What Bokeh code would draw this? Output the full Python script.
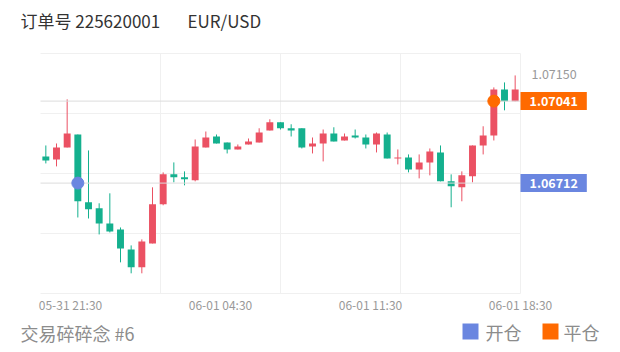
from bokeh.plotting import figure
from bokeh.models import Range1d, Label, ColumnDataSource
from bokeh.embed import file_html
from bokeh.resources import INLINE

# ---------------- data ----------------
title_order = "订单号 225620001"
title_pair = "EUR/USD"
footer_text = "交易碎碎念 #6"
legend_labels = ["开仓", "平仓"]

opens = [1.06819, 1.06807, 1.06855, 1.06907, 1.06635, 1.06611, 1.06550, 1.06526, 1.06446, 1.06374,
         1.06470, 1.06627, 1.06747, 1.06735, 1.06723, 1.06855, 1.06899, 1.06875, 1.06847, 1.06867,
         1.06875, 1.06923, 1.06956, 1.06932, 1.06932, 1.06859, 1.06871, 1.06911, 1.06883, 1.06903,
         1.06895, 1.06867, 1.06907, 1.06811, 1.06815, 1.06767, 1.06795, 1.06835, 1.06719, 1.06695,
         1.06739, 1.06863, 1.06903, 1.07088, 1.07040]
closes = [1.06803, 1.06855, 1.06911, 1.06639, 1.06607, 1.06550, 1.06518, 1.06450, 1.06374, 1.06478,
          1.06627, 1.06747, 1.06735, 1.06727, 1.06859, 1.06895, 1.06871, 1.06847, 1.06859, 1.06879,
          1.06915, 1.06956, 1.06932, 1.06923, 1.06855, 1.06871, 1.06911, 1.06879, 1.06899, 1.06895,
          1.06867, 1.06911, 1.06811, 1.06815, 1.06767, 1.06795, 1.06839, 1.06719, 1.06699, 1.06743,
          1.06863, 1.06903, 1.07088, 1.07040, 1.07088]
highs = [1.06863, 1.06871, 1.07048, 1.06907, 1.06843, 1.06631, 1.06671, 1.06534, 1.06462, 1.06486,
         1.06695, 1.06755, 1.06795, 1.06759, 1.06887, 1.06919, 1.06907, 1.06875, 1.06867, 1.06891,
         1.06932, 1.06968, 1.06956, 1.06948, 1.06932, 1.06895, 1.06927, 1.06936, 1.06911, 1.06927,
         1.06907, 1.06915, 1.06915, 1.06847, 1.06827, 1.06827, 1.06851, 1.06863, 1.06747, 1.06759,
         1.06863, 1.06940, 1.07096, 1.07116, 1.07144]
lows = [1.06791, 1.06779, 1.06855, 1.06574, 1.06570, 1.06506, 1.06514, 1.06394, 1.06350, 1.06350,
        1.06470, 1.06623, 1.06715, 1.06703, 1.06719, 1.06855, 1.06871, 1.06831, 1.06847, 1.06867,
        1.06875, 1.06923, 1.06927, 1.06899, 1.06851, 1.06831, 1.06799, 1.06879, 1.06883, 1.06891,
        1.06851, 1.06835, 1.06811, 1.06787, 1.06755, 1.06731, 1.06743, 1.06719, 1.06615, 1.06639,
        1.06715, 1.06827, 1.06883, 1.07004, 1.07040]

time_labels = ["05-31 21:30", "06-01 04:30", "06-01 11:30", "06-01 18:30"]

open_index = 3
open_price = 1.06712
close_index = 42
close_price = 1.07041
max_label = 1.07150

y_min, y_max = 1.06269, 1.07232

# ---------------- layout (pixels) ----------------
W, H = 620, 352
PL, PR, PT, PB = 40, 520, 53, 293      # plot area inside the canvas

RED = "#EB5163"
GREEN = "#14B08E"
BLUE = "#6A86E0"
ORANGE = "#FF6A00"
CJK = "Noto Sans CJK SC"

n = len(opens)
x0p, x1p = -0.5, n - 0.5
xpp = (x1p - x0p) / (PR - PL)           # data units per pixel
ypp = (y_max - y_min) / (PB - PT)
xr = Range1d(x0p - PL * xpp, x1p + (W - PR) * xpp)
yr = Range1d(y_min - (H - PB) * ypp, y_max + PT * ypp)

def px_x(px):
    return xr.start + px * xpp

def px_y(py):
    return yr.end - py * ypp

p = figure(width=W, height=H, output_backend="svg", toolbar_location=None,
           x_range=xr, y_range=yr, min_border=0)
p.xaxis.visible = False
p.yaxis.visible = False
p.xgrid.visible = False
p.ygrid.visible = False
p.outline_line_color = None
p.background_fill_color = "white"
p.border_fill_color = "white"

# split lines (4 equal splits)
gx = [x0p + (x1p - x0p) * k / 4 for k in range(1, 5)]
gy = [y_min + (y_max - y_min) * k / 4 for k in range(5)]
p.segment(x0=gx, x1=gx, y0=[y_min] * 4, y1=[y_max] * 4, line_color="#f0f0f0", line_width=1)
p.segment(x0=[x0p] * 5, x1=[x1p] * 5, y0=gy, y1=gy, line_color="#f0f0f0", line_width=1)

# time labels every 150px from right edge
lab_step = 150 * xpp
lab_pos = [x1p - lab_step * (3 - k) for k in range(4)]
p.text(x=lab_pos, y=[y_min] * 4, text=time_labels, text_align="center", text_baseline="top",
       y_offset=2, text_color="#999999", text_font_size="12px", text_font={"value": CJK})

# candles
colors = [RED if c >= o else GREEN for o, c in zip(opens, closes)]
src = ColumnDataSource(dict(
    x=list(range(n)), top=[max(o, c) for o, c in zip(opens, closes)],
    bottom=[min(o, c) for o, c in zip(opens, closes)],
    high=highs, low=lows, color=colors))
p.segment(x0="x", x1="x", y0="high", y1="low", color="color", line_width=1, source=src)
p.vbar(x="x", width=0.65, top="top", bottom="bottom", fill_color="color", line_color=None, source=src)

# mark lines
p.segment(x0=[x0p, x0p], x1=[x1p, x1p], y0=[open_price, close_price], y1=[open_price, close_price],
          line_color="#dcdcdc", line_width=1)

p.scatter(x=[open_index], y=[open_price], size=12, color=BLUE)
p.scatter(x=[close_index], y=[close_price], size=12, color=ORANGE)

# price tags
p.add_layout(Label(x=PR + 11, y=max_label, x_units="screen", text=f"{max_label:.5f}",
                   text_color="#999999", text_font_size="12.5px", text_font=CJK,
                   text_baseline="middle", text_align="left"))
for price, col in [(close_price, ORANGE), (open_price, BLUE)]:
    p.add_layout(Label(x=PR, y=price, x_units="screen", text=f"{price:.5f}",
                       text_color="white", text_font_size="12.5px", text_font=CJK, text_font_style="bold",
                       text_baseline="middle", text_align="left",
                       background_fill_color=col, padding=(9, 4)))

# title & footer
p.add_layout(Label(x=20, y=H - 20, x_units="screen", y_units="screen", text=title_order,
                   text_color="#333333", text_font_size="17px", text_font=CJK, text_baseline="middle"))
p.add_layout(Label(x=187, y=H - 20, x_units="screen", y_units="screen", text=title_pair,
                   text_color="#333333", text_font_size="17px", text_font=CJK, text_baseline="middle"))
p.add_layout(Label(x=20, y=H - 332, x_units="screen", y_units="screen", text=footer_text,
                   text_color="#8c8c8c", text_font_size="18px", text_font=CJK, text_baseline="middle"))

# legend (manual): coloured squares + labels
leg_sq_left = [462, 542]
leg_txt_left = [485, 563]
leg_colors = [BLUE, ORANGE]
p.quad(left=[px_x(v) for v in leg_sq_left], right=[px_x(v + 16) for v in leg_sq_left],
       top=[px_y(323)] * 2, bottom=[px_y(339)] * 2, fill_color=leg_colors, line_color=None)
for lx, lab in zip(leg_txt_left, legend_labels):
    p.add_layout(Label(x=lx, y=H - 331, x_units="screen", y_units="screen", text=lab,
                       text_color="#8c8c8c", text_font_size="18px", text_font=CJK,
                       text_baseline="middle"))

open("out.html", "w").write(file_html(p, INLINE))
